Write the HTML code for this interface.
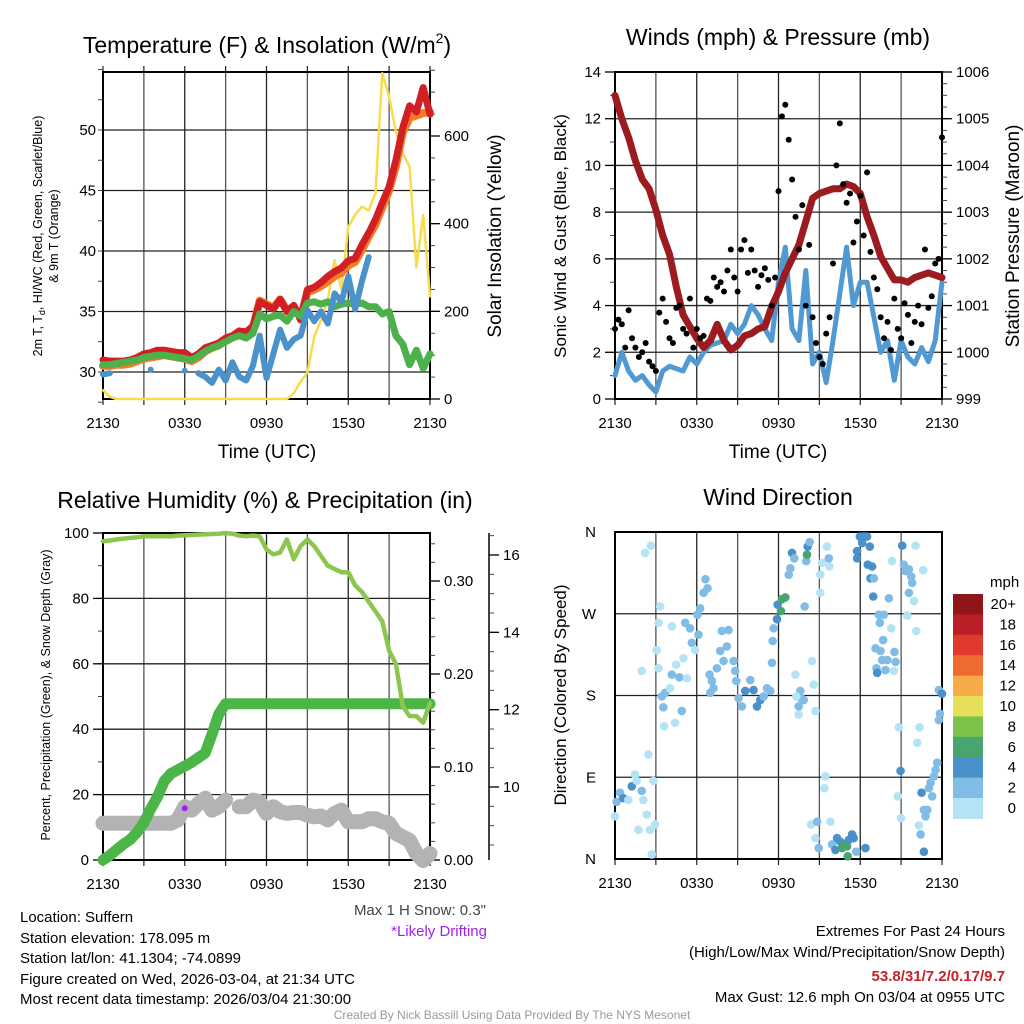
<!DOCTYPE html>
<html><head><meta charset="utf-8">
<style>
body{margin:0;background:#fff;}
svg{display:block;font-family:"Liberation Sans",Arial,sans-serif;}
</style></head>
<body>
<svg id="chart" width="1024" height="1024" viewBox="0 0 1024 1024" xmlns="http://www.w3.org/2000/svg">
<rect x="0" y="0" width="1024" height="1024" fill="#fff"/>
<g font-size="23" text-anchor="middle" fill="#000">
<text x="267" y="53">Temperature (F) &amp; Insolation (W/m<tspan font-size="14" dy="-10">2</tspan><tspan dy="10">)</tspan></text>
<text x="778" y="45">Winds (mph) &amp; Pressure (mb)</text>
<text x="265" y="508">Relative Humidity (%) &amp; Precipitation (in)</text>
<text x="778" y="505">Wind Direction</text>
</g>
<g font-size="19" text-anchor="middle">
<text x="267" y="458">Time (UTC)</text>
<text x="778" y="458">Time (UTC)</text>
<text transform="translate(501,236) rotate(-90)">Solar Insolation (Yellow)</text>
<text font-size="17" transform="translate(566,236) rotate(-90)">Sonic Wind &amp; Gust (Blue, Black)</text>
<text transform="translate(1019,236) rotate(-90)">Station Pressure (Maroon)</text>
<text font-size="17" transform="translate(566,695) rotate(-90)">Direction (Colored By Speed)</text>
</g>
<g font-size="12.5" text-anchor="middle">
<text transform="translate(42,236) rotate(-90)">2m T, T<tspan font-size="9" dy="3">d</tspan><tspan dy="-3">, HI/WC (Red, Green, Scarlet/Blue)</tspan></text>
<text transform="translate(58,236) rotate(-90)">&amp; 9m T (Orange)</text>
<text transform="translate(50,695) rotate(-90)">Percent, Precipitation (Green), &amp; Snow Depth (Gray)</text>
</g>
<g id="layer"></g>
<g font-size="15" fill="#000">
<text x="20" y="922">Location: Suffern</text>
<text x="20" y="943">Station elevation: 178.095 m</text>
<text x="20" y="963">Station lat/lon: 41.1304; -74.0899</text>
<text x="20" y="984">Figure created on Wed, 2026-03-04, at 21:34 UTC</text>
<text x="20" y="1004">Most recent data timestamp: 2026/03/04 21:30:00</text>
<text x="486" y="915" text-anchor="end" fill="#444">Max 1 H Snow: 0.3"</text>
<text x="487" y="936" text-anchor="end" fill="#a020f0">*Likely Drifting</text>
<text x="1005" y="936" text-anchor="end">Extremes For Past 24 Hours</text>
<text x="1005" y="957" text-anchor="end">(High/Low/Max Wind/Precipitation/Snow Depth)</text>
<text x="1005" y="981" text-anchor="end" fill="#c8202a" font-weight="bold">53.8/31/7.2/0.17/9.7</text>
<text x="1005" y="1002" text-anchor="end">Max Gust: 12.6 mph On 03/04 at 0955 UTC</text>
<text x="512" y="1019" text-anchor="middle" font-size="12" fill="#999">Created By Nick Bassill Using Data Provided By The NYS Mesonet</text>
</g>
</svg>
<script>
const hours = [0,0.5,1,1.5,2,2.5,3,3.5,4,4.5,5,5.5,6,6.5,7,7.5,8,8.5,9,9.5,10,10.5,11,11.5,12,12.5,13,13.5,14,14.5,15,15.5,16,16.5,17,17.5,18,18.5,19,19.5,20,20.5,21,21.5,22,22.5,23,23.5,24];
const xTickLabels = ["2130","0330","0930","1530","2130"];
const tempTicks = [30,35,40,45,50];
const insolTicks = [0,200,400,600];
const temp2m = [31.0,30.9,30.9,30.9,31.0,31.2,31.5,31.6,31.8,31.8,31.7,31.6,31.6,31.2,31.5,32.0,32.2,32.4,32.8,33.0,33.4,33.3,33.8,35.8,35.5,35.2,36.0,35.0,35.5,34.3,36.8,37.0,37.4,37.9,38.3,38.6,39.2,39.4,40.5,41.5,42.6,44.0,45.3,47.5,50.2,52.0,51.5,53.5,51.3];
const temp9m = [30.5,30.5,30.6,30.6,30.7,30.9,31.1,31.2,31.3,31.4,31.3,31.2,31.1,30.9,31.2,31.7,32.0,32.2,32.6,32.9,33.3,33.3,33.6,35.9,35.6,35.3,36.0,35.1,35.4,34.5,36.6,36.8,37.1,37.5,37.9,38.2,38.8,39.1,40.1,41.2,42.2,43.6,45.0,47.0,49.8,51.0,51.2,51.4,51.5];
const dewpoint = [30.6,30.6,30.7,30.8,30.9,31.0,31.2,31.3,31.4,31.4,31.3,31.2,31.1,31.0,31.3,31.7,32.0,32.2,32.5,32.8,33.0,32.8,33.2,34.8,34.4,34.6,34.7,34.2,35.0,34.6,35.7,35.8,35.6,35.8,35.4,35.6,35.7,35.6,35.7,35.4,35.4,34.8,35.0,33.0,32.3,30.6,31.8,30.3,31.5];
const windChill = [29.8,29.9,null,null,null,null,null,30.2,null,null,null,null,30.1,null,29.9,29.6,29.1,30.2,29.3,30.8,29.6,29.3,30.5,33.0,29.5,31.5,33.5,32.0,32.7,33.0,35.1,34.2,35.0,34.0,36.5,35.8,37.9,35.2,37.5,39.5,null,null,null,null,null,null,null,null,null];
const insolation = [20,5,0,0,0,0,0,0,0,0,0,0,0,0,0,0,0,0,0,0,0,0,0,0,0,0,0,0,13,40,60,142,180,226,317,250,393,420,439,430,470,743,690,610,560,530,300,420,234];
const windTicks = [0,2,4,6,8,10,12,14];
const pressTicks = [999,1000,1001,1002,1003,1004,1005,1006];
const windSpeed = [1.0,2.0,1.2,0.8,1.0,0.6,0.3,1.2,1.4,1.3,1.2,1.8,1.5,2.0,2.3,2.4,2.5,3.2,2.8,3.2,4.0,3.6,3.0,2.5,5.0,6.5,3.0,2.5,5.5,1.5,2.0,0.7,2.5,4.5,6.5,4.0,5.0,5.0,3.5,2.0,2.5,0.8,2.5,1.8,1.5,2.2,1.6,2.5,5.0];
const pressure = [1005.5,1005.0,1004.6,1004.1,1003.7,1003.5,1003.05,1002.5,1002.1,1001.4,1000.8,1000.55,1000.3,1000.1,1000.25,1000.6,1000.25,1000.05,1000.15,1000.35,1000.4,1000.5,1000.55,1000.98,1001.3,1001.7,1002.0,1002.3,1002.8,1003.3,1003.4,1003.45,1003.5,1003.5,1003.6,1003.55,1003.4,1002.9,1002.5,1002.05,1001.8,1001.55,1001.55,1001.5,1001.6,1001.65,1001.7,1001.65,1001.6];
const gustStep = 0.25;
const gusts = [3.0,3.4,3.2,2.2,3.8,2.6,2.2,1.8,2.0,2.4,1.6,1.4,1.2,3.7,4.3,3.3,2.6,2.4,3.9,4.0,3.0,2.8,4.3,2.2,3.0,2.6,2.7,4.3,4.2,5.2,4.8,5.0,4.6,5.5,6.4,5.2,4.6,6.4,6.8,5.4,6.4,5.5,4.8,5.3,5.6,5.1,4.0,5.2,8.9,12.1,12.6,11.1,9.4,7.8,6.4,8.3,4.0,6.6,3.5,2.4,1.8,1.5,2.8,3.5,5.8,10.0,11.8,9.2,8.4,8.8,6.7,7.6,8.7,7.0,9.7,6.3,5.2,4.7,3.5,2.6,3.3,2.1,4.3,3.0,2.6,4.1,3.6,2.4,3.3,4.0,3.2,6.4,3.9,4.4,5.8,6.0,11.2];
const rhTicks = [0,20,40,60,80,100];
const precipTicks = ["0.00","0.10","0.20","0.30"];
const snowTicks = [10,12,14,16];
const relHumidity = [97.5,97.7,98,98.3,98.5,98.7,99,99,99,99,99,99.2,99.3,99.4,99.5,99.6,99.7,99.8,100,99.8,99.2,99,99.2,99,95,93.5,94,98,92,96,98,96,93,90,89,88,88,84,82,79,76,73,64,60,47,44,44,42,48];
const precip = [0,0.005,0.011,0.017,0.022,0.03,0.04,0.055,0.068,0.085,0.093,0.097,0.101,0.105,0.11,0.115,0.135,0.157,0.168,0.168,0.168,0.168,0.168,0.168,0.168,0.168,0.168,0.168,0.168,0.168,0.168,0.168,0.168,0.168,0.168,0.168,0.168,0.168,0.168,0.168,0.168,0.168,0.168,0.168,0.168,0.168,0.168,0.168,0.168];
const snowDepth = [9.06,9.06,9.06,9.06,9.06,9.06,9.06,9.06,9.06,9.06,9.06,9.15,9.49,9.4,9.57,9.71,9.4,9.49,9.66,null,9.49,9.49,9.66,9.62,9.32,9.49,9.36,9.32,9.34,9.34,9.27,9.23,9.25,9.15,9.32,9.40,9.1,9.1,9.1,9.18,9.18,9.1,9.06,8.8,8.71,8.62,8.28,8.1,8.28];
const driftTime = [6.0];
const driftSnow = [9.45];
const dirLabels = ["N","E","S","W","N"];
const dirTime = [0.12,0.37,0.61,0.98,1.23,1.47,1.59,1.96,2.08,1.72,2.33,2.57,2.70,2.82,2.94,0,2.45,1.96,2.21,2.62,3.06,3.19,3.31,3.19,3.43,3.55,3.68,4.04,4.17,3.60,4.41,4.17,4.49,4.73,4.90,5.02,5.27,5.15,5.51,5.64,5.88,6.05,6.25,6.50,6.64,6.79,6.13,6.94,7.11,6.99,7.23,7.48,7.72,7.97,8.21,7.84,8.33,8.70,8.82,8.90,9.07,9.31,9.56,9.93,10.17,10.42,10.66,10.91,11.15,11.40,11.52,11.57,11.64,11.89,11.94,12.25,12.50,12.18,12.75,12.87,12.99,13.16,13.60,13.65,13.85,13.48,13.48,13.24,13.31,13.92,14.04,14.14,14.29,14.09,14.46,14.58,14.71,15.07,15.20,15.07,15.56,15.69,15.74,15.44,15.37,14.39,14.71,14.83,14.95,15.81,15.93,16.30,16.54,16.79,17.03,17.16,17.40,17.52,16.18,16.67,17.08,17.70,18.38,17.77,17.97,18.14,18.26,18.50,17.77,18.70,18.55,18.87,18.75,19.00,18.95,19.36,19.73,19.44,20.10,20.27,20.34,19.68,19.12,19.49,19.61,19.98,20.51,20.59,19.19,19.24,19.85,20.47,21.08,21.20,21.32,21.57,21.74,21.81,22.06,22.62,21.57,21.94,21.45,22.11,20.83,22.35,22.18,20.96,20.76,21.00,22.50,22.67,22.92,22.79,22.30,22.43,22.67,23.04,23.16,23.28,23.41,23.53,23.65,23.77,23.85,23.77,24.0];
const dirDeg = [63,73,67,65,80,93,86,75,65,32,49,32,5,86,38,47,115,207,337,345,230,260,278,210,179,167,183,188,203,146,150,256,214,200,163,221,199,260,254,238,230,269,276,293,308,298,247,203,196,183,188,210,229,218,234,251,252,218,207,196,177,168,185,197,186,168,175,179,188,185,216,240,254,264,280,286,288,273,313,320,337,331,185,177,175,168,159,203,179,278,328,344,349,335,218,192,163,313,326,293,344,331,322,91,78,38,23,41,12,41,16,23,19,16,14,21,27,23,10,12,3,8,12,339,355,348,355,355,331,344,324,322,309,309,289,269,269,260,287,254,328,241,232,229,219,219,228,217,210,205,208,207,345,324,317,319,311,304,345,318,293,284,268,251,145,145,128,97,69,45,73,54,54,47,37,27,8,78,84,69,91,98,106,153,160,186,182];
const dirSpeed = [3,3,5,1,5,1,1,3,1,1,1,1,1,1,1,1,1,1,1,1,1,1,1,1,3,3,3,1,3,1,1,1,1,3,3,1,1,3,3,3,1,3,3,3,3,3,3,3,3,3,3,3,3,3,3,3,3,3,3,3,3,3,5,3,5,5,5,3,3,3,3,3,3,5,5,7,7,7,3,3,5,3,3,3,3,3,1,1,1,3,3,5,3,7,1,1,1,1,1,1,1,3,1,1,1,1,1,3,3,1,3,5,5,7,7,5,5,5,5,7,7,3,5,5,5,5,5,5,5,5,5,5,5,3,5,3,3,3,3,1,1,3,3,3,3,3,3,3,3,5,3,1,5,3,3,3,3,3,1,1,3,1,1,1,1,1,1,5,1,1,5,3,3,3,1,3,5,3,3,3,3,3,3,3,3,3,5];
const speedBins = ["0","2","4","6","8","10","12","14","16","18","20+"];
const speedColors = ["#b5e3f6","#80bce6","#4a90c9","#48a56e","#7dc24a","#e6df58","#f6aa48","#ef6a2e","#df3a2c","#bb1f25","#8f1519"];

const NS = "http://www.w3.org/2000/svg";
const layer = document.getElementById("layer");
function mk(tag, attrs, parent){
  const e = document.createElementNS(NS, tag);
  for (const k in attrs) e.setAttribute(k, attrs[k]);
  (parent||layer).appendChild(e);
  return e;
}
function lin(d0,d1,r0,r1){ return v => r0 + (v-d0)/(d1-d0)*(r1-r0); }

function drawLine(xs, ys, xf, yf, color, width, name, cap){
  let segs = [], cur = [];
  xs.forEach((x,i)=>{ const y = ys[i];
    if (y===null||y===undefined){ if(cur.length) segs.push(cur); cur=[]; }
    else cur.push([xf(x), yf(y)]); });
  if (cur.length) segs.push(cur);
  segs.forEach(s=>{
    if (s.length===1){
      const c = mk("circle",{cx:s[0][0],cy:s[0][1],r:width/2,fill:color});
      
      
    } else {
      const p = mk("path",{d:"M"+s.map(q=>q[0].toFixed(1)+","+q[1].toFixed(1)).join("L"),fill:"none",stroke:color,"stroke-width":width,"stroke-linejoin":"round","stroke-linecap":cap||"round"});
      
      
    }
  });
}

function frame(x0,x1,y0,y1,name,hgrid,yf,topTicks){
  const g = mk("g",{});
  
  
  const xf = lin(0,24,x0,x1);
  for (let h=0; h<=24; h+=3){
    const x = xf(h);
    mk("line",{x1:x,y1:y0,x2:x,y2:y1,stroke:(h%6===0)?"#222":"#555","stroke-width":1.3},g);
    mk("line",{x1:x,y1:y1,x2:x,y2:y1+6,stroke:"#222","stroke-width":1.2},g);
    if (topTicks) mk("line",{x1:x,y1:y0,x2:x,y2:y0-6,stroke:"#222","stroke-width":1.2},g);
  }
  hgrid.forEach(v=>{ const y=yf(v); mk("line",{x1:x0,y1:y,x2:x1,y2:y,stroke:"#222","stroke-width":1.3},g); });
  mk("rect",{x:x0,y:y0,width:x1-x0,height:y1-y0,fill:"none",stroke:"#000","stroke-width":2},g);
  xTickLabels.forEach((l,i)=>{
    const t = mk("text",{x:xf(i*6),y:y1+29,"text-anchor":"middle","font-size":15},g);
    t.textContent = l;
    
    
  });
  return xf;
}
function yTicks(vals, labels, yf, x, side, minor, fs){
  const g = mk("g",{});
  
  
  const dir = side==="left" ? -1 : 1;
  minor.forEach(v=>{ const y=yf(v); mk("line",{x1:x,y1:y,x2:x+dir*5,y2:y,stroke:"#444","stroke-width":1},g); });
  vals.forEach((v,i)=>{
    const y=yf(v);
    mk("line",{x1:x,y1:y,x2:x+dir*10,y2:y,stroke:"#000","stroke-width":1.3},g);
    const t = mk("text",{x:x+dir*14,y:y+5,"text-anchor":side==="left"?"end":"start","font-size":fs||15},g);
    t.textContent = labels[i];
    
    
  });
}
function range(a,b,s){ const r=[]; for(let v=a; v<=b+1e-9; v+=s) r.push(+v.toFixed(4)); return r; }

/* Panel 1 */
const p1y = lin(30,50,372,130);
const p1i = lin(0,600,399,136);
const p1x = frame(103,430,72,399,"temperature-panel",tempTicks,p1y,true);
yTicks([],[],p1y,103,"left",range(27.5,55,2.5));
tempTicks.forEach(v=>{ const t=mk("text",{x:96,y:p1y(v)+5,"text-anchor":"end","font-size":15}); t.textContent=v;   });
yTicks(insolTicks,insolTicks,p1i,430,"right",range(0,750,50));
drawLine(hours,insolation,p1x,p1i,"#f8dc4c",2.5,"insolation-line");
drawLine(hours,temp9m,p1x,p1y,"#f47b22",8,"temp-9m-line");
drawLine(hours,temp2m,p1x,p1y,"#d21f26",7,"temp-2m-line");
drawLine(hours,dewpoint,p1x,p1y,"#4cb04b",7,"dewpoint-line");
drawLine(hours,windChill,p1x,p1y,"#4a92c9",6,"windchill-line");

/* Panel 2 */
const p2y = lin(0,14,399,72);
const p2p = lin(999,1006,399,72);
const p2x = frame(615,942,72,399,"wind-panel",[2,4,6,8,10,12],p2y,false);
yTicks(windTicks,windTicks,p2y,615,"left",range(0,14,1));
yTicks(pressTicks,pressTicks,p2p,942,"right",range(999,1006,0.25));
drawLine(hours,windSpeed,p2x,p2y,"#5199d3",5,"wind-speed-line");
drawLine(hours,pressure,p2x,p2p,"#9b1b1f",7,"pressure-line");
gusts.forEach((g,i)=>{
  const c = mk("circle",{cx:p2x(i*gustStep),cy:p2y(g),r:3,fill:"#000"});
  
  
});

/* Panel 3 */
const p3y = lin(0,100,860,533);
const p3p = lin(0,0.30,860,581);
const p3s = lin(10,16,787,555);
const p3x = frame(103,430,533,860,"humidity-panel",[20,40,60,80],p3y,false);
yTicks(rhTicks,rhTicks,p3y,103,"left",range(0,100,10));
yTicks(precipTicks.map(Number),precipTicks,p3p,430,"right",range(0,0.34,0.02));
mk("line",{x1:489,y1:533,x2:489,y2:860,stroke:"#000","stroke-width":1.5});
yTicks(snowTicks,snowTicks,p3s,489,"right",range(8.5,16.5,0.5));
drawLine(hours,snowDepth,p3x,p3s,"#b3b3b3",15,"snow-depth-line");
drawLine(driftTime,driftSnow,p3x,p3s,"#a020f0",6,"drifting-marker");
drawLine(hours,precip,p3x,p3p,"#4bb548",11,"precip-line");
drawLine(hours,relHumidity,p3x,p3y,"#8dc64f",4.5,"humidity-line");

/* Panel 4 */
const p4y = lin(0,360,859,532);
const p4x = frame(615,942,532,859,"direction-panel",[90,180,270],p4y,false);
dirLabels.forEach((l,i)=>{
  const t = mk("text",{x:596,y:p4y(i*90)+5,"text-anchor":"end","font-size":15});
  t.textContent = l;
  
  
});
dirTime.forEach((t,i)=>{
  const bin = Math.min(10, Math.floor(dirSpeed[i]/2));
  const c = mk("circle",{cx:p4x(t),cy:p4y(dirDeg[i]),r:4.3,fill:speedColors[bin]});
  
  
});
/* Colorbar */
const cbTop = 594, cbH = 20.4;
const mph = mk("text",{x:990,y:587,"font-size":15}); mph.textContent = "mph";


speedBins.forEach((b,i)=>{
  const j = speedBins.length-1-i;
  const r = mk("rect",{x:953,y:cbTop+i*cbH,width:30,height:cbH+0.5,fill:speedColors[j]});
  
  
  const t = mk("text",{x:1016,y:cbTop+i*cbH+15,"text-anchor":"end","font-size":15});
  t.textContent = speedBins[j];
  
  
});
</script>
</body></html>
